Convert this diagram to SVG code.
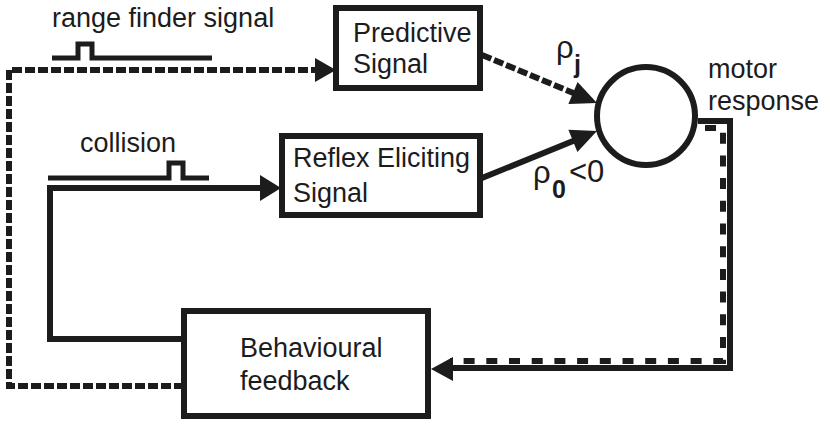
<svg xmlns="http://www.w3.org/2000/svg" width="828" height="421" viewBox="0 0 828 421">
  <style>
    text { font-family: "Liberation Sans", Arial, sans-serif; font-size: 27px; fill: #1c1c1c; }
    .rho { font-size: 31px; }
    .sub { font-weight: bold; font-size: 25px; }
    .box { fill: #fff; stroke: #1c1c1c; stroke-width: 6; }
    .wire { fill: none; stroke: #1c1c1c; stroke-width: 6; }
    .dash { fill: none; stroke: #1c1c1c; stroke-width: 6; stroke-dasharray: 10 3; }
    .dash2 { fill: none; stroke: #1c1c1c; stroke-width: 6; stroke-dasharray: 11 11.7; }
    .pulse { fill: none; stroke: #1c1c1c; stroke-width: 5; }
    .head { fill: #1c1c1c; }
  </style>

  <!-- input signal traces -->
  <g id="range-finder">
    <polyline class="pulse" points="52,58 78,58 78,44 92,44 92,58 212,58"/>
    <text x="52" y="27">range finder signal</text>
  </g>
  <g id="collision">
    <polyline class="pulse" points="48,178 169,178 169,163 183,163 183,178 209,178"/>
    <text x="80" y="152">collision</text>
  </g>

  <!-- connectors -->
  <g id="connectors">
    <!-- predictive loop (dashed) -->
    <polyline class="dash" points="184,386 9,386 9,70 316,70"/>
    <polygon class="head" points="336,70 315,58 315,82"/>
    <!-- reflex loop (solid) -->
    <polyline class="wire" points="184,339 50,339 50,188 262,188"/>
    <polygon class="head" points="281,188 260,175 260,201"/>
    <!-- signals into the neuron -->
    <line class="dash" x1="482" y1="55" x2="578" y2="95"/>
    <polygon class="head" points="597,103 568.4,104.1 577.6,81.9"/>
    <line class="wire" x1="482" y1="178" x2="578" y2="139"/>
    <polygon class="head" points="597,131 577.4,151.9 568.4,129.7"/>
    <!-- motor output back to behaviour -->
    <polyline class="wire" points="698,121 730,121 730,368 450,368"/>
    <polyline class="dash2" points="705,128 723,128 723,361 450,361"/>
    <polygon class="head" points="431,369 453,357 453,381"/>
  </g>

  <g id="predictive">
    <rect class="box" x="336" y="8" width="144" height="80"/>
    <text x="353" y="42">Predictive</text>
    <text x="353" y="73">Signal</text>
  </g>

  <g id="reflex">
    <rect class="box" x="282" y="136" width="198" height="79"/>
    <text x="293" y="167">Reflex Eliciting</text>
    <text x="293" y="202">Signal</text>
  </g>

  <g id="neuron">
    <circle class="box" cx="646" cy="116" r="49"/>
    <text x="708" y="78">motor</text>
    <text x="708" y="110">response</text>
  </g>

  <g id="weights">
    <text class="rho" x="556" y="58">ρ</text>
    <text class="sub" x="574" y="73">j</text>
    <text class="rho" x="533" y="183">ρ</text>
    <text class="sub" x="552" y="198">0</text>
    <text class="rho" x="569" y="182">&lt;0</text>
  </g>

  <g id="behaviour">
    <rect class="box" x="184" y="311" width="244" height="105"/>
    <text x="240" y="357">Behavioural</text>
    <text x="240" y="390">feedback</text>
  </g>
</svg>
